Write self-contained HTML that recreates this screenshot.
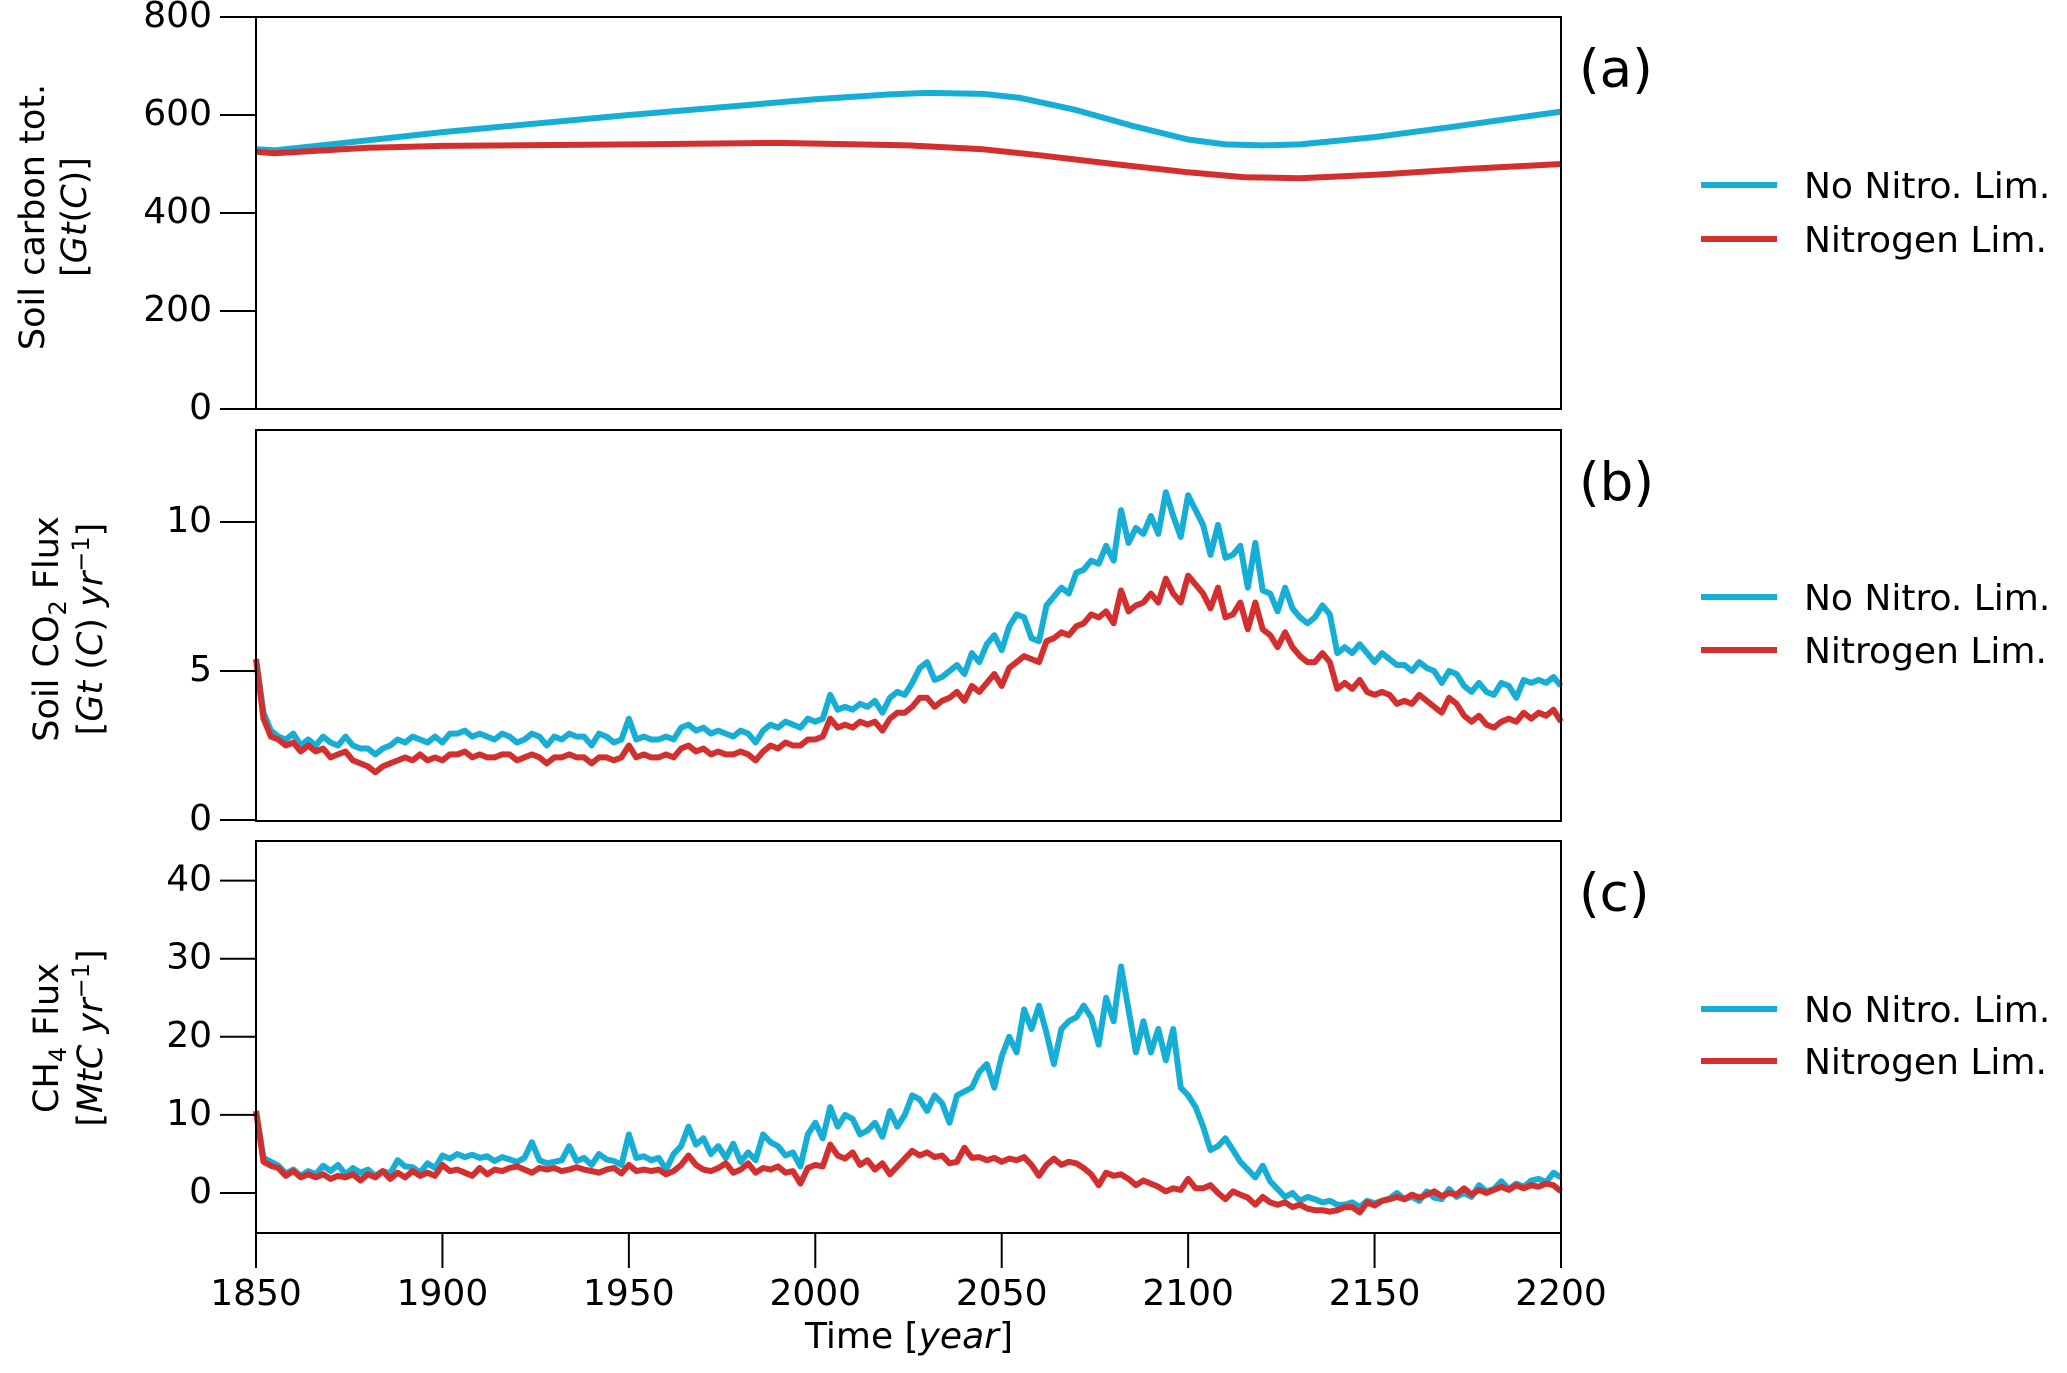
<!DOCTYPE html>
<html><head><meta charset="utf-8">
<style>
html,body{margin:0;padding:0;background:#fff;}
svg{display:block;font-family:"DejaVu Sans","Liberation Sans",sans-serif;}
</style></head>
<body>
<svg id="chart" width="2067" height="1373" viewBox="0 0 2067 1373" xmlns="http://www.w3.org/2000/svg">
<g id="axes"></g>
</svg>
<script>
const yearStart = 1850, yearStep = 2;
const xTicks = [1850,1900,1950,2000,2050,2100,2150,2200];
const aTicks = [0,200,400,600,800];
const bTicks = [0,5,10];
const cTicks = [0,10,20,30,40];
const seriesNames = ["No Nitro. Lim.","Nitrogen Lim."];

const aYears = [1850,1855,1870,1900,1950,2000,2020,2030,2045,2055,2070,2085,2100,2110,2120,2130,2150,2170,2200];
const aNoN = [530,528,540,565,600,632,642,645,643,635,610,578,550,540,538,540,555,575,607];
const aYearsN = [1850,1855,1880,1900,1950,1990,2025,2045,2060,2080,2100,2115,2130,2150,2175,2200];
const aNit = [525,522,533,537,540,543,538,530,518,500,483,473,471,478,490,500];

const bNoN = [5.4,3.6,3.0,2.8,2.7,2.9,2.5,2.7,2.5,2.8,2.6,2.5,2.8,2.5,2.4,2.4,2.2,2.4,2.5,2.7,2.6,2.8,2.7,2.6,2.8,2.6,2.9,2.9,3.0,2.8,2.9,2.8,2.7,2.9,2.8,2.6,2.7,2.9,2.8,2.5,2.8,2.7,2.9,2.8,2.8,2.5,2.9,2.8,2.6,2.7,3.4,2.7,2.8,2.7,2.7,2.8,2.7,3.1,3.2,3.0,3.1,2.9,3.0,2.9,2.8,3.0,2.9,2.6,3.0,3.2,3.1,3.3,3.2,3.1,3.4,3.3,3.4,4.2,3.7,3.8,3.7,3.9,3.8,4.0,3.6,4.1,4.3,4.2,4.6,5.1,5.3,4.7,4.8,5.0,5.2,4.9,5.6,5.3,5.9,6.2,5.7,6.5,6.9,6.8,6.1,6.0,7.2,7.5,7.8,7.6,8.3,8.4,8.7,8.6,9.2,8.7,10.4,9.3,9.8,9.6,10.2,9.6,11.0,10.2,9.5,10.9,10.4,9.9,8.9,9.9,8.8,8.9,9.2,7.8,9.3,7.7,7.6,7.0,7.8,7.1,6.8,6.6,6.8,7.2,6.9,5.6,5.8,5.6,5.9,5.6,5.3,5.6,5.4,5.2,5.2,5.0,5.3,5.1,5.0,4.6,5.0,4.9,4.5,4.3,4.6,4.3,4.2,4.6,4.5,4.1,4.7,4.6,4.7,4.6,4.8,4.5];
const bNit = [5.4,3.4,2.8,2.7,2.5,2.6,2.3,2.5,2.3,2.4,2.1,2.2,2.3,2.0,1.9,1.8,1.6,1.8,1.9,2.0,2.1,2.0,2.2,2.0,2.1,2.0,2.2,2.2,2.3,2.1,2.2,2.1,2.1,2.2,2.2,2.0,2.1,2.2,2.1,1.9,2.1,2.1,2.2,2.1,2.1,1.9,2.1,2.1,2.0,2.1,2.5,2.1,2.2,2.1,2.1,2.2,2.1,2.4,2.5,2.3,2.4,2.2,2.3,2.2,2.2,2.3,2.2,2.0,2.3,2.5,2.4,2.6,2.5,2.5,2.7,2.7,2.8,3.4,3.1,3.2,3.1,3.3,3.2,3.3,3.0,3.4,3.6,3.6,3.8,4.1,4.1,3.8,4.0,4.1,4.3,4.0,4.5,4.3,4.6,4.9,4.5,5.1,5.3,5.5,5.4,5.3,6.0,6.1,6.3,6.2,6.5,6.6,6.9,6.8,7.0,6.6,7.7,7.0,7.2,7.3,7.6,7.3,8.1,7.6,7.3,8.2,7.9,7.6,7.1,7.8,6.8,6.9,7.3,6.4,7.3,6.4,6.2,5.8,6.3,5.8,5.5,5.3,5.3,5.6,5.3,4.4,4.6,4.4,4.7,4.3,4.2,4.3,4.2,3.9,4.0,3.9,4.2,4.0,3.8,3.6,4.1,3.9,3.5,3.3,3.5,3.2,3.1,3.3,3.4,3.3,3.6,3.4,3.6,3.5,3.7,3.3];

const cNoN = [10.5,4.5,4.0,3.5,2.5,3.0,2.2,2.8,2.4,3.5,2.8,3.6,2.4,3.2,2.6,3.0,2.2,2.8,2.5,4.2,3.4,3.3,2.6,3.8,3.2,4.8,4.4,5.0,4.6,4.9,4.5,4.7,4.1,4.6,4.3,4.0,4.5,6.5,4.2,3.8,4.0,4.2,6.0,4.1,4.5,3.6,5.0,4.3,4.1,3.6,7.5,4.5,4.7,4.2,4.5,3.0,5.0,6.0,8.5,6.2,7.0,5.0,6.0,4.5,6.3,4.0,5.2,4.2,7.5,6.5,6.0,4.8,5.2,3.4,7.5,9.0,7.0,11.0,8.5,10.0,9.5,7.5,8.0,9.0,7.2,10.5,8.5,10.0,12.5,12.0,10.5,12.5,11.5,9.0,12.5,13.0,13.5,15.5,16.5,13.5,17.5,20.0,18.0,23.5,21.0,24.0,20.5,16.5,21.0,22.0,22.5,24.0,22.5,19.0,25.0,22.0,29.0,23.5,18.0,22.0,18.0,21.0,17.0,21.0,13.5,12.5,11.0,8.5,5.5,6.0,7.0,5.5,4.0,3.0,2.0,3.5,1.5,0.5,-0.5,0.0,-1.0,-0.5,-0.8,-1.2,-1.0,-1.5,-1.5,-1.2,-1.8,-1.0,-1.3,-1.0,-0.7,0.0,-0.8,-0.5,-1.0,0.2,-0.6,-0.8,0.5,-0.5,0.0,-0.5,1.0,0.2,0.5,1.5,0.5,1.2,0.8,1.6,1.8,1.4,2.6,2.0];
const cNit = [10.5,4.0,3.5,3.2,2.2,2.8,2.0,2.4,2.0,2.4,1.8,2.2,2.0,2.4,1.6,2.4,2.0,2.8,1.8,2.6,2.0,2.8,2.2,2.6,2.2,3.6,2.8,3.0,2.6,2.2,3.2,2.4,3.0,2.8,3.2,3.4,3.0,2.6,3.2,3.0,3.2,2.8,3.0,3.3,3.0,2.8,2.6,3.0,3.2,2.5,3.6,2.8,3.0,2.8,3.0,2.4,2.8,3.6,4.8,3.6,3.0,2.8,3.2,3.8,2.6,3.0,3.8,2.6,3.2,3.0,3.4,2.6,2.8,1.2,3.2,3.6,3.4,6.2,4.8,4.4,5.2,3.6,4.2,3.0,3.8,2.4,3.4,4.4,5.4,4.8,5.2,4.6,4.8,3.8,4.0,5.8,4.5,4.6,4.2,4.5,4.0,4.4,4.2,4.6,3.6,2.2,3.6,4.4,3.6,4.0,3.8,3.2,2.4,1.0,2.6,2.2,2.4,1.8,1.0,1.6,1.2,0.8,0.2,0.6,0.4,1.8,0.6,0.6,1.0,0.0,-0.8,0.2,-0.2,-0.6,-1.5,-0.5,-1.2,-1.5,-1.2,-1.8,-1.5,-2.0,-2.2,-2.2,-2.4,-2.2,-1.8,-1.8,-2.5,-1.2,-1.6,-1.0,-0.8,-0.5,-0.8,-0.2,-0.6,-0.2,0.2,-0.4,0.0,-0.2,0.6,-0.2,0.4,0.0,0.4,0.8,0.4,1.0,0.6,1.0,0.8,1.2,1.0,0.2];

const NS = "http://www.w3.org/2000/svg";
const g = document.getElementById('axes');
const X0 = 256, X1 = 1561;
const xs = y => X0 + (y - 1850) / 350 * (X1 - X0);
const BLUE = "#17AED6", RED = "#D32F2E";
const FS = 36;

function mk(tag, attrs, parent) {
  const e = document.createElementNS(NS, tag);
  for (const k in attrs) e.setAttribute(k, attrs[k]);
  (parent || g).appendChild(e);
  return e;
}

const panels = [
  {key:'a', top:17, bot:409, ymin:0, ymax:800, ticks:aTicks, label:'(a)',
   series:[[aYears,aNoN],[aYearsN,aNit]], legY:[185,239],
   title:['Soil carbon tot.','[<tspan font-style="italic">Gt</tspan>(<tspan font-style="italic">C</tspan>)]'], tx:[44,86], ty:217},
  {key:'b', top:430, bot:821, ymin:(820-821)/29.8, ymax:(820-430)/29.8, ticks:bTicks, label:'(b)',
   series:[[null,bNoN],[null,bNit]], legY:[597,650],
   title:['Soil CO<tspan font-size="24" dy="8">2</tspan><tspan dy="-8"> Flux</tspan>','[<tspan font-style="italic">Gt</tspan> (<tspan font-style="italic">C</tspan>) <tspan font-style="italic">yr</tspan><tspan font-size="24" dy="-13">−1</tspan><tspan dy="13">]</tspan>'], tx:[58,102], ty:629},
  {key:'c', top:841, bot:1233, ymin:(1193-1233)/7.81, ymax:(1193-841)/7.81, ticks:cTicks, label:'(c)',
   series:[[null,cNoN],[null,cNit]], legY:[1009,1061],
   title:['CH<tspan font-size="24" dy="8">4</tspan><tspan dy="-8"> Flux</tspan>','[<tspan font-style="italic">MtC yr</tspan><tspan font-size="24" dy="-13">−1</tspan><tspan dy="13">]</tspan>'], tx:[58,102], ty:1038}
];

panels.forEach(p => {
  const ys = v => p.bot - (v - p.ymin) / (p.ymax - p.ymin) * (p.bot - p.top);
  const pg = mk('g', {});
  
  
  p.series.forEach((s, i) => {
    const vals = s[1];
    const yrs = s[0] || vals.map((_, j) => yearStart + j * yearStep);
    const d = vals.map((v, j) => (j ? 'L' : 'M') + xs(yrs[j]).toFixed(1) + ' ' + ys(v).toFixed(1)).join(' ');
    const path = mk('path', {d:d, fill:'none', stroke: i ? RED : BLUE, 'stroke-width':6, 'stroke-linejoin':'round'}, pg);
    
    
  });
  const fr = mk('rect', {x:X0, y:p.top, width:X1-X0, height:p.bot-p.top, fill:'none', stroke:'#000', 'stroke-width':2}, pg);
  
  
  p.ticks.forEach(t => {
    const y = ys(t);
    const tl = mk('line', {x1:X0-36, x2:X0, y1:y, y2:y, stroke:'#000', 'stroke-width':2}, pg);
    
    
    const tt = mk('text', {x:X0-44, y:y+10, 'text-anchor':'end', 'font-size':FS}, pg);
    tt.textContent = t;
    
    
  });
  p.title.forEach((h, i) => {
    const t = mk('text', {transform:'translate(' + p.tx[i] + ',' + p.ty + ') rotate(-90)', 'text-anchor':'middle', 'font-size':35}, pg);
    t.innerHTML = h;
    
    
  });
  const pl = mk('text', {x:1579, y:p.top + 70, 'font-size':53}, pg);
  pl.textContent = p.label;
  
  
  seriesNames.forEach((n, i) => {
    const ly = p.legY[i];
    const lg = mk('g', {}, pg);
    
    
    mk('line', {x1:1701, x2:1777, y1:ly, y2:ly, stroke: i ? RED : BLUE, 'stroke-width':6}, lg);
    const lt = mk('text', {x:1804, y:ly + 13, 'font-size':FS}, lg);
    lt.textContent = n;
  });
});

xTicks.forEach(t => {
  const x = xs(t);
  const l = mk('line', {x1:x, x2:x, y1:1233, y2:1268, stroke:'#000', 'stroke-width':2});
  
  
  const tt = mk('text', {x:x, y:1305, 'text-anchor':'middle', 'font-size':FS});
  tt.textContent = t;
  
  
});
const xt = mk('text', {x:909, y:1348, 'text-anchor':'middle', 'font-size':FS});
xt.innerHTML = 'Time [<tspan font-style="italic">year</tspan>]';


</script>
</body></html>
